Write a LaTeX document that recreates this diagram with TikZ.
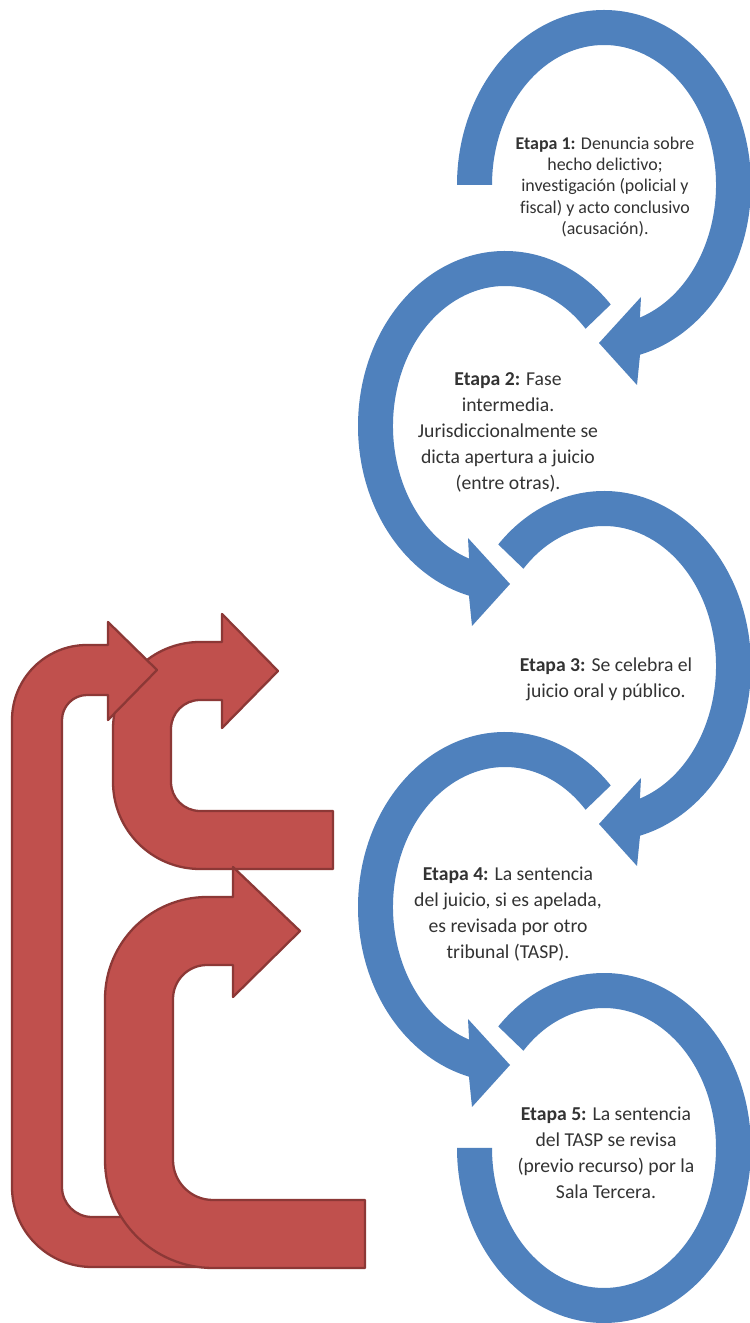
\documentclass[tikz,border=0pt]{standalone}
\usepackage{fontspec}
\setmainfont{Carlito}[Ligatures=NoCommon]
\definecolor{ringblue}{HTML}{4F81BD}
\definecolor{uturnred}{HTML}{C0504D}
\definecolor{uturnedge}{HTML}{8C3836}

\begin{document}
\begin{tikzpicture}[
  x=0.02cm, y=0.02cm,
  ring/.style={fill=ringblue},
  uturn/.style={fill=uturnred, draw=uturnedge, line width=1.3pt, line join=round},
  stage/.style={align=center, text=black!80, font=\fontsize{11.2}{14.8}\selectfont}
]
\useasboundingbox[fill=white] (0,0) rectangle (750,1323);

% Circular arrows (right: clockwise, left: counter-clockwise)
\fill[ring, shift={(604,1138)}] (180:147 and 175) arc[start angle=180, end angle=-75.8, x radius=147, y radius=175]
  -- (33,-200) -- (-5,-158) -- (37,-112) -- (-71.3:112 and 140)
  arc[start angle=-71.3, end angle=180, x radius=112, y radius=140] -- cycle;
\fill[ring, shift={(505,897)}] (44:147 and 175) arc[start angle=44, end angle=255.8, x radius=147, y radius=175]
  -- (-33,-200) -- (5,-158) -- (-37,-112) -- (251.3:112 and 140)
  arc[start angle=251.3, end angle=44, x radius=112, y radius=140] -- cycle;
\fill[ring, shift={(604,657)}] (136:147 and 175) arc[start angle=136, end angle=-75.8, x radius=147, y radius=175]
  -- (33,-200) -- (-5,-158) -- (37,-112) -- (-71.3:112 and 140)
  arc[start angle=-71.3, end angle=136, x radius=112, y radius=140] -- cycle;
\fill[ring, shift={(505,416)}] (44:147 and 175) arc[start angle=44, end angle=255.8, x radius=147, y radius=175]
  -- (-33,-200) -- (5,-158) -- (-37,-112) -- (251.3:112 and 140)
  arc[start angle=251.3, end angle=44, x radius=112, y radius=140] -- cycle;
\fill[ring, shift={(604,175)}] (136:147 and 175) arc[start angle=136, end angle=-180, x radius=147, y radius=175]
  -- (-180:112 and 140)
  arc[start angle=-180, end angle=136, x radius=112, y radius=140] -- cycle;

% Stages
\node[stage, font=\fontsize{10.2}{12}\selectfont] (s1) at (605,1136) {\textbf{Etapa 1:} Denuncia sobre\\hecho delictivo;\\investigación (policial y\\fiscal) y acto conclusivo\\(acusación).};
\node[stage] (s2) at (508,891) {\textbf{Etapa 2:} Fase\\intermedia.\\Jurisdiccionalmente se\\dicta apertura a juicio\\(entre otras).};
\node[stage] (s3) at (606,644) {\textbf{Etapa 3:} Se celebra el\\juicio oral y público.};
\node[stage] (s4) at (508,409) {\textbf{Etapa 4:} La sentencia\\del juicio, si es apelada,\\es revisada por otro\\tribunal (TASP).};
\node[stage] (s5) at (606,170) {\textbf{Etapa 5:} La sentencia\\del TASP se revisa\\(previo recurso) por la\\Sala Tercera.};

% U-turn arrows
\draw[uturn] (333,454) -- (200,454) arc[start angle=270, end angle=180, radius=87]
  -- (113,594) arc[start angle=180, end angle=90, radius=87]
  -- (222,681) -- (222,709) -- (278,652) -- (222,595) -- (222,623) -- (200,623)
  arc[start angle=90, end angle=180, radius=29]
  -- (171,541) arc[start angle=180, end angle=270, radius=29] -- (333,512) -- cycle;
\draw[uturn] (330,56) -- (92,56) arc[start angle=270, end angle=180, radius=80]
  -- (12,603) arc[start angle=180, end angle=90, radius=75]
  -- (108,678) -- (108,701) -- (157,653) -- (108,603) -- (108,628) -- (87,628)
  arc[start angle=90, end angle=180, radius=25]
  -- (62,136) arc[start angle=180, end angle=270, radius=30] -- (330,106) -- cycle;
\draw[uturn] (365,55) -- (213,55) arc[start angle=270, end angle=180, radius=108]
  -- (105,324) arc[start angle=180, end angle=90, radius=102]
  -- (233,426) -- (233,456) -- (300,392) -- (233,326) -- (233,358) -- (207,358)
  arc[start angle=90, end angle=180, radius=34]
  -- (173,163) arc[start angle=180, end angle=270, radius=40] -- (365,123) -- cycle;

\end{tikzpicture}
\end{document}
